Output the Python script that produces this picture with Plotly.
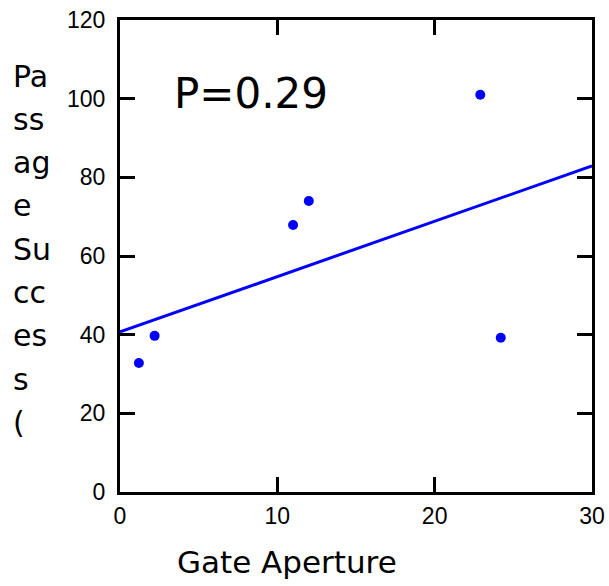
import plotly.graph_objects as go

# Data
gate_aperture = [1.2, 2.2, 11.0, 12.0, 22.9, 24.2]
passage_success = [32.8, 39.7, 67.9, 74.0, 101.0, 39.2]
fit_x = [0, 30]
fit_y = [40.7, 82.9]
x_ticks = [0, 10, 20, 30]
y_ticks = [0, 20, 40, 60, 80, 100, 120]
y_title_chunks = ["Pa", "ss", "ag", "e", "Su", "cc", "es", "s", "("]
x_title = "Gate Aperture"
p_label = "P=0.29"

W, H = 609, 586
L, T = 120, 20
PW, PH = 472, 472
R, B = W - L - PW, H - T - PH


def px(sx):
    return (sx - L) / PW


def py(sy):
    return (T + PH - sy) / PH


fig = go.Figure()
fig.add_trace(go.Scatter(x=fit_x, y=fit_y, mode="lines",
                         line=dict(color="#0000ff", width=3),
                         showlegend=False, hoverinfo="skip"))
fig.add_trace(go.Scatter(x=gate_aperture, y=passage_success, mode="markers",
                         marker=dict(color="#0000ff", size=10),
                         showlegend=False))

axis_common = dict(
    showgrid=False, zeroline=False, showline=True, linecolor="black", linewidth=3,
    mirror="ticks", ticks="inside", ticklen=15, tickwidth=3, tickcolor="black",
    automargin=False, ticklabeloverflow="allow",
    tickfont=dict(family="Liberation Sans, Arial", size=23, color="black"),
)
fig.update_xaxes(range=[0, 30], tickvals=x_ticks, ticklabelstandoff=1, **axis_common)
fig.update_yaxes(range=[0, 120], tickvals=y_ticks, ticklabelstandoff=7, **axis_common)

annotations = []
annotations.append(dict(text=p_label, xref="paper", yref="paper",
                        x=px(172), y=py(93), xanchor="left", yanchor="middle",
                        showarrow=False,
                        font=dict(family="DejaVu Sans", size=42, color="black")))
annotations.append(dict(text=x_title, xref="paper", yref="paper",
                        x=px(287), y=py(562), xanchor="center", yanchor="middle",
                        showarrow=False,
                        font=dict(family="DejaVu Sans", size=31, color="black")))
for i, chunk in enumerate(y_title_chunks):
    yc = 76 + i * 43.3
    annotations.append(dict(text=chunk, xref="paper", yref="paper",
                            x=px(11), y=py(yc), xanchor="left", yanchor="middle",
                            showarrow=False,
                            font=dict(family="DejaVu Sans", size=30, color="black")))

fig.update_layout(
    width=W, height=H,
    margin=dict(l=L, r=R, t=T, b=B),
    paper_bgcolor="white", plot_bgcolor="white",
    annotations=annotations,
)

fig.write_html("out.html",
               config={"displayModeBar": False},
               post_script="document.body.style.margin='0';document.body.style.overflow='hidden';")
